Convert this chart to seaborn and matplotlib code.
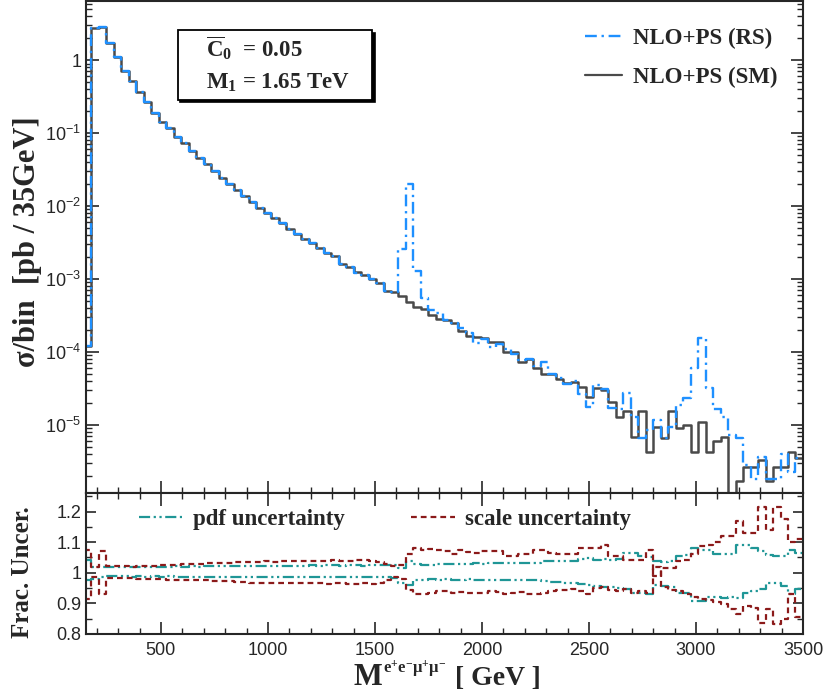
import numpy as np
import pandas as pd
import matplotlib
matplotlib.use("Agg")
import matplotlib.pyplot as plt
import matplotlib.transforms as mtransforms
import seaborn as sns
from matplotlib.ticker import MultipleLocator, LogLocator, FixedLocator, FuncFormatter, NullFormatter
from matplotlib.lines import Line2D
from matplotlib.patches import Rectangle

# ---------------- data ----------------
bin_lo, bin_hi, bin_w = 140, 3500, 35
edges = [float(e) for e in np.arange(bin_lo, bin_hi + 1, bin_w)]
centers = np.arange(bin_lo, bin_hi, bin_w) + bin_w / 2
y_decades = [1e-5, 1e-4, 1e-3, 1e-2, 1e-1, 1.0]

sm_xsec = [1.2e-4, 2.75, 2.85, 1.71, 1.09, 0.713, 0.52, 0.368, 0.269, 0.191,
           0.143, 0.116, 0.0897, 0.0721, 0.0575, 0.0455, 0.0376, 0.0305, 0.0242, 0.0200,
           0.0166, 0.0138, 0.0115, 9.33e-3, 7.94e-3, 6.76e-3, 5.75e-3, 4.90e-3, 4.17e-3, 3.55e-3,
           3.09e-3, 2.63e-3, 2.29e-3, 2.04e-3, 1.62e-3, 1.45e-3, 1.26e-3, 1.12e-3, 1.00e-3, 8.7e-4,
           6.8e-4, 6.6e-4, 5.75e-4, 4.79e-4, 4.07e-4, 3.89e-4, 3.16e-4, 2.82e-4, 2.69e-4, 2.45e-4,
           1.95e-4, 1.62e-4, 1.58e-4, 1.55e-4, 1.35e-4, 1.35e-4, 9.8e-5, 9.8e-5, 7.2e-5, 7.9e-5,
           6.0e-5, 4.9e-5, 5.0e-5, 4.2e-5, 3.7e-5, 3.8e-5, 3.3e-5, 2.4e-5, 3.2e-5, 3.0e-5,
           2.04e-5, 1.26e-5, 1.55e-5, 6.8e-6, 1.55e-5, 4.2e-6, 9.3e-6, 6.6e-6, 1.55e-5, 8.9e-6,
           1.0e-5, 4.2e-6, 1.1e-5, 4.2e-6, 6.0e-6, 6.8e-6, 0.0, 1.7e-6, 2.6e-6, 2.6e-6,
           3.3e-6, 1.7e-6, 2.6e-6, 2.6e-6, 4.2e-6, 3.5e-6]

rs_xsec = [1.2e-4, 2.75, 2.85, 1.71, 1.09, 0.713, 0.52, 0.368, 0.269, 0.191,
           0.143, 0.116, 0.0897, 0.0721, 0.0575, 0.0455, 0.0376, 0.0305, 0.0242, 0.0200,
           0.0166, 0.0138, 0.0115, 9.33e-3, 7.94e-3, 6.76e-3, 5.75e-3, 4.90e-3, 4.17e-3, 3.55e-3,
           3.09e-3, 2.63e-3, 2.29e-3, 2.04e-3, 1.62e-3, 1.45e-3, 1.20e-3, 1.12e-3, 1.00e-3, 8.7e-4,
           6.8e-4, 6.6e-4, 2.57e-3, 0.020, 1.29e-3, 5.4e-4, 3.7e-4, 3.4e-4, 2.69e-4, 2.5e-4,
           2.1e-4, 1.78e-4, 1.32e-4, 1.51e-4, 1.17e-4, 1.29e-4, 1.10e-4, 9.3e-5, 7.6e-5, 7.9e-5,
           6.3e-5, 7.2e-5, 5.0e-5, 4.3e-5, 3.6e-5, 3.9e-5, 2.6e-5, 1.74e-5, 3.5e-5, 3.1e-5,
           1.70e-5, 1.66e-5, 2.7e-5, 1.26e-5, 6.5e-6, 8.3e-6, 1.15e-5, 6.5e-6, 9.3e-6, 1.86e-5,
           2.34e-5, 6.0e-5, 1.55e-4, 3.16e-5, 1.62e-5, 1.29e-5, 7.1e-6, 6.5e-6, 2.8e-6, 1.8e-6,
           3.6e-6, 1.8e-6, 1.8e-6, 4.0e-6, 2.2e-6, 3.5e-6]

scale_up = [1.073, 1.02, 1.07, 1.022, 1.021, 1.021, 1.020, 1.022, 1.023, 1.022,
            1.025, 1.026, 1.027, 1.028, 1.029, 1.030, 1.031, 1.032, 1.033, 1.033,
            1.034, 1.035, 1.035, 1.036, 1.037, 1.036, 1.038, 1.038, 1.039, 1.038,
            1.040, 1.039, 1.040, 1.041, 1.039, 1.040, 1.043, 1.041, 1.040, 1.036,
            1.030, 1.022, 1.025, 1.060, 1.080, 1.075, 1.078, 1.076, 1.072, 1.062,
            1.076, 1.068, 1.066, 1.070, 1.072, 1.070, 1.056, 1.056, 1.062, 1.060,
            1.076, 1.076, 1.065, 1.060, 1.062, 1.060, 1.081, 1.081, 1.081, 1.092,
            1.054, 1.054, 1.043, 1.043, 1.043, 1.076, 0.990, 1.016, 1.016, 1.038,
            1.043, 1.060, 1.087, 1.092, 1.100, 1.119, 1.120, 1.168, 1.130, 1.130,
            1.215, 1.140, 1.215, 1.175, 1.100, 1.110]

scale_lo = [0.913, 0.985, 0.930, 0.982, 0.983, 0.983, 0.982, 0.981, 0.980, 0.981,
            0.979, 0.978, 0.978, 0.977, 0.976, 0.975, 0.975, 0.974, 0.973, 0.972,
            0.971, 0.970, 0.968, 0.967, 0.966, 0.967, 0.965, 0.966, 0.965, 0.965,
            0.965, 0.966, 0.964, 0.965, 0.967, 0.962, 0.962, 0.967, 0.964, 0.965,
            0.975, 0.985, 0.980, 0.945, 0.930, 0.932, 0.935, 0.940, 0.940, 0.935,
            0.938, 0.933, 0.935, 0.935, 0.940, 0.938, 0.932, 0.935, 0.938, 0.932,
            0.932, 0.935, 0.940, 0.943, 0.945, 0.946, 0.940, 0.930, 0.950, 0.952,
            0.945, 0.940, 0.946, 0.935, 0.940, 0.935, 1.020, 0.955, 0.945, 0.940,
            0.930, 0.920, 0.915, 0.910, 0.905, 0.897, 0.880, 0.865, 0.890, 0.885,
            0.837, 0.880, 0.832, 0.850, 0.930, 0.855]

pdf_up = [1.043, 1.020, 1.020, 1.018, 1.019, 1.019, 1.018, 1.019, 1.020, 1.019,
          1.020, 1.019, 1.021, 1.020, 1.021, 1.020, 1.021, 1.021, 1.022, 1.021,
          1.022, 1.022, 1.022, 1.023, 1.022, 1.023, 1.023, 1.022, 1.023, 1.023,
          1.024, 1.023, 1.024, 1.024, 1.023, 1.024, 1.024, 1.023, 1.025, 1.024,
          1.024, 1.026, 1.015, 1.040, 1.030, 1.027, 1.027, 1.028, 1.028, 1.029,
          1.030, 1.030, 1.031, 1.030, 1.031, 1.032, 1.031, 1.032, 1.033, 1.032,
          1.033, 1.038, 1.037, 1.039, 1.038, 1.040, 1.045, 1.048, 1.043, 1.045,
          1.043, 1.045, 1.065, 1.065, 1.055, 1.050, 1.040, 1.035, 1.040, 1.055,
          1.058, 1.080, 1.076, 1.076, 1.062, 1.060, 1.060, 1.090, 1.090, 1.080,
          1.070, 1.058, 1.055, 1.054, 1.076, 1.065]

pdf_lo = [0.975, 0.980, 0.985, 0.988, 0.989, 0.988, 0.987, 0.988, 0.987, 0.988,
          0.987, 0.988, 0.986, 0.987, 0.987, 0.986, 0.987, 0.986, 0.986, 0.987,
          0.986, 0.986, 0.987, 0.986, 0.986, 0.985, 0.986, 0.986, 0.985, 0.986,
          0.985, 0.986, 0.985, 0.985, 0.986, 0.985, 0.985, 0.986, 0.985, 0.985,
          0.986, 0.984, 0.965, 0.960, 0.975, 0.978, 0.979, 0.978, 0.979, 0.978,
          0.978, 0.979, 0.977, 0.978, 0.977, 0.977, 0.976, 0.977, 0.975, 0.976,
          0.975, 0.972, 0.970, 0.971, 0.968, 0.967, 0.962, 0.960, 0.958, 0.955,
          0.952, 0.950, 0.948, 0.935, 0.935, 0.930, 0.960, 0.958, 0.955, 0.935,
          0.933, 0.908, 0.908, 0.920, 0.922, 0.918, 0.920, 0.918, 0.935, 0.940,
          0.946, 0.967, 0.967, 0.957, 0.930, 0.946]

df = pd.DataFrame({"mass": centers, "sm": sm_xsec, "rs": rs_xsec,
                   "scale_up": scale_up, "scale_lo": scale_lo,
                   "pdf_up": pdf_up, "pdf_lo": pdf_lo})

# ---------------- style ----------------
sns.set_style("ticks")
plt.rcParams["font.family"] = ["Liberation Sans", "DejaVu Sans"]
plt.rcParams["mathtext.fontset"] = "custom"
plt.rcParams["mathtext.rm"] = "Liberation Serif:bold"
plt.rcParams["mathtext.it"] = "Liberation Serif:bold"
plt.rcParams["mathtext.bf"] = "Liberation Serif:bold"
plt.rcParams["mathtext.sf"] = "Liberation Sans"
plt.rcParams["axes.linewidth"] = 1.5

C_SM = "#4a4a4a"
C_RS = "#1e90ff"
C_PDF = "#1f9696"
C_SCALE = "#8b1a1a"
LS_RS = (0, (5, 2, 1, 2))
LS_PDF = (0, (5, 1.6, 1, 1.6, 1, 1.6))
LS_SCALE = (0, (2.6, 1.8))
serif_bold = dict(family="Liberation Serif", weight="bold")


def step_hist(ax, col, **kw):
    sns.histplot(x=df["mass"], weights=df[col], bins=edges, element="step", fill=False,
                 ax=ax, **kw)


W, H = 824, 694
fig = plt.figure(figsize=(W / 100, H / 100), dpi=100)
ax1 = fig.add_axes([0.1044, 0.2896, 0.8701, 0.709])
ax2 = fig.add_axes([0.1044, 0.0865, 0.8701, 0.2032], sharex=ax1)

# ---------------- top panel ----------------
step_hist(ax1, "sm", color=C_SM, linewidth=1.8)
step_hist(ax1, "rs", color=C_RS, linewidth=1.7, linestyle=LS_RS)
ax1.set_yscale("log")
ax1.set_xlim(150, 3500)
ax1.set_ylim(1.15e-6, 6.5)


def log_fmt(v, pos):
    e = int(round(np.log10(v)))
    return "1" if e == 0 else r"$\mathsf{10^{%d}}$" % e


ax1.yaxis.set_major_locator(FixedLocator(y_decades))
ax1.yaxis.set_minor_locator(LogLocator(base=10, subs=np.arange(2, 10), numticks=20))
ax1.yaxis.set_major_formatter(FuncFormatter(log_fmt))
ax1.yaxis.set_minor_formatter(NullFormatter())
ax1.xaxis.set_major_locator(MultipleLocator(500))
ax1.xaxis.set_minor_locator(MultipleLocator(100))
ax1.tick_params(which="both", direction="in", top=False, right=True, labelbottom=False,
                labelsize=13)
ax1.tick_params(which="major", length=9, width=1.2)
ax1.tick_params(which="minor", length=4.5, width=1.0)
ax1.set_xlabel("")
ax1.set_ylabel("σ/bin  [pb / 35GeV]", fontsize=22, **serif_bold)
ax1.yaxis.set_label_coords(-0.061, 0.51)

leg_handles = [Line2D([], [], color=C_RS, lw=1.7, linestyle=LS_RS),
               Line2D([], [], color=C_SM, lw=1.6)]
ax1.legend(leg_handles, ["NLO+PS (RS)", "NLO+PS (SM)"], loc="upper left",
           bbox_to_anchor=(0.667, 0.987), frameon=False,
           prop=dict(family="Liberation Serif", weight="bold", size=16.5),
           handlelength=1.6, handletextpad=0.5, labelspacing=0.78)

# parameter box with shadow
shadow_tr = mtransforms.offset_copy(ax1.transAxes, fig=fig, x=2.5, y=-2.5, units="dots")
ax1.add_patch(Rectangle((0.128, 0.799), 0.271, 0.142, transform=shadow_tr,
                        facecolor="black", edgecolor="black", lw=1.2, zorder=5))
ax1.add_patch(Rectangle((0.128, 0.799), 0.271, 0.142, transform=ax1.transAxes,
                        facecolor="white", edgecolor="black", lw=1.3, zorder=6))
ax1.text(0.168, 0.905, r"$\overline{\mathrm{C}}_{\mathrm{0}}$  = 0.05", transform=ax1.transAxes,
         fontsize=16.5, va="center", ha="left", zorder=7, **serif_bold)
ax1.text(0.168, 0.833, r"M$_{\mathrm{1}}$ = 1.65 TeV", transform=ax1.transAxes,
         fontsize=16.5, va="center", ha="left", zorder=7, **serif_bold)

# ---------------- bottom panel ----------------
step_hist(ax2, "pdf_up", color=C_PDF, linewidth=1.6, linestyle=LS_PDF)
step_hist(ax2, "pdf_lo", color=C_PDF, linewidth=1.6, linestyle=LS_PDF)
step_hist(ax2, "scale_up", color=C_SCALE, linewidth=1.6, linestyle=LS_SCALE)
step_hist(ax2, "scale_lo", color=C_SCALE, linewidth=1.6, linestyle=LS_SCALE)
ax2.set_xlim(150, 3500)
ax2.set_ylim(0.8, 1.261)
ax2.yaxis.set_major_locator(MultipleLocator(0.1))
ax2.yaxis.set_minor_locator(MultipleLocator(0.05))
ax2.yaxis.set_major_formatter(FuncFormatter(lambda v, p: f"{v:g}"))
ax2.xaxis.set_major_locator(MultipleLocator(500))
ax2.xaxis.set_minor_locator(MultipleLocator(100))
ax2.tick_params(which="both", direction="in", top=True, right=True, labelsize=13)
ax2.tick_params(which="major", length=9, width=1.2)
ax2.tick_params(which="minor", length=4.5, width=1.0)
ax2.tick_params(axis="y", which="major", length=7)
ax2.tick_params(axis="x", pad=6)
ax2.set_ylabel("Frac. Uncer.", fontsize=18, **serif_bold)
ax2.yaxis.set_label_coords(-0.073, 0.44)
ax2.set_xlabel("")

# x-axis title assembled from pieces (large M, superscript, unit)
fig.text(354 / W, 1 - 685 / H, "M", fontsize=22, ha="left", va="baseline", **serif_bold)
fig.text(383 / W, 1 - 673 / H, r"$\mathrm{e^{+}e^{-}\mu^{+}\mu^{-}}$", fontsize=12,
         ha="left", va="baseline", **serif_bold)
fig.text(455 / W, 1 - 685 / H, "[ GeV ]", fontsize=20, ha="left", va="baseline", **serif_bold)

leg2_handles = [Line2D([], [], color=C_PDF, lw=1.6, linestyle=LS_PDF),
                Line2D([], [], color=C_SCALE, lw=1.6, linestyle=LS_SCALE)]
ax2.legend(leg2_handles, ["pdf uncertainty", "scale uncertainty"], loc="center left",
           bbox_to_anchor=(0.045, 0.815), ncol=2, frameon=False,
           prop=dict(family="Liberation Serif", weight="bold", size=16.5),
           handlelength=1.9, handletextpad=0.45, columnspacing=2.9)

fig.savefig("out.png", dpi=100)
